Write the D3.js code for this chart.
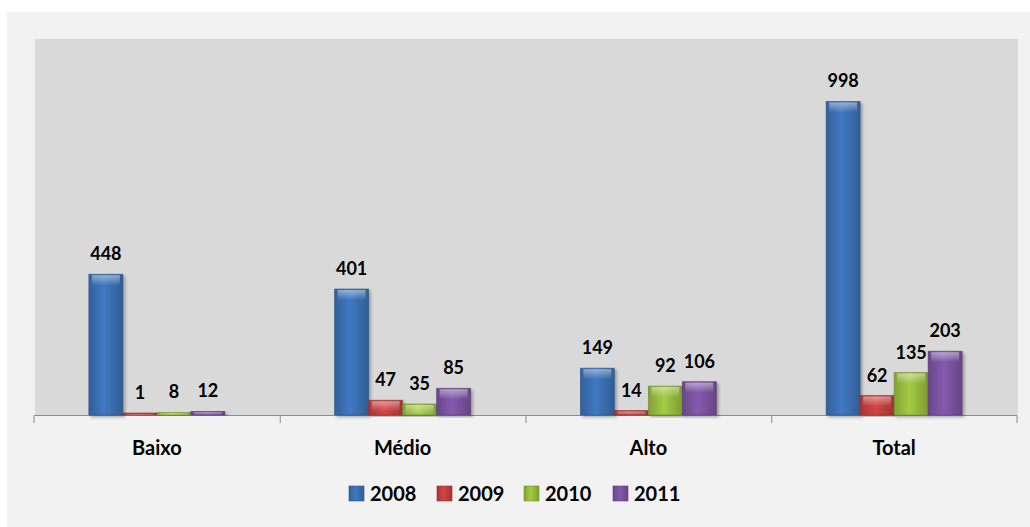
<!DOCTYPE html>
<html><head><meta charset="utf-8">
<script src="https://cdn.jsdelivr.net/npm/d3@7"></script>
<style>html,body{margin:0;padding:0;background:#fff;}svg{display:block;}</style>
</head><body>
<svg id="c" width="1030" height="527"></svg>
<script>
const categories = ["Baixo", "Médio", "Alto", "Total"];
const seriesNames = ["2008", "2009", "2010", "2011"];
const s2008 = [448, 401, 149, 998];
const s2009 = [1, 47, 14, 62];
const s2010 = [8, 35, 92, 135];
const s2011 = [12, 85, 106, 203];
const colors = ["#3d73b9", "#c8413f", "#9bc13f", "#7e55a5"];
const yDomain = [0, 1200];

const series = [s2008, s2009, s2010, s2011];
const svg = d3.select("#c");
const font = "Lato, 'Open Sans', sans-serif";

svg.append("rect").attr("x", 7).attr("y", 12).attr("width", 1023).attr("height", 515).attr("fill", "#f2f2f2");

const plot = {l: 35, r: 1018, t: 39, b: 415};
svg.append("rect").attr("x", plot.l).attr("y", plot.t).attr("width", plot.r - plot.l).attr("height", plot.b - plot.t).attr("fill", "#d9d9d9");

const x0 = d3.scaleBand().domain(categories).range([plot.l - 1, plot.r - 1]).paddingInner(0).paddingOuter(0);
const x1 = d3.scaleBand().domain(seriesNames).range([0, 136]);
const y = d3.scaleLinear().domain(yDomain).range([plot.b, plot.t - 1]);

const defs = svg.append("defs");
colors.forEach((c, i) => {
  const base = d3.color(c);
  const g = defs.append("linearGradient").attr("id", "g" + i).attr("x1", 0).attr("x2", 1).attr("y1", 0).attr("y2", 0);
  g.append("stop").attr("offset", "0%").attr("stop-color", base.darker(0.5));
  g.append("stop").attr("offset", "45%").attr("stop-color", base.brighter(0.15));
  g.append("stop").attr("offset", "100%").attr("stop-color", base.darker(0.6));
  const h = defs.append("linearGradient").attr("id", "h" + i).attr("x1", 0).attr("x2", 0).attr("y1", 0).attr("y2", 1);
  h.append("stop").attr("offset", "0%").attr("stop-color", "#fff").attr("stop-opacity", 0.45);
  h.append("stop").attr("offset", "100%").attr("stop-color", "#fff").attr("stop-opacity", 0);
});
const shadow = defs.append("filter").attr("id", "sh").attr("x", "-20%").attr("y", "-5%").attr("width", "150%").attr("height", "115%");
shadow.append("feDropShadow").attr("dx", 2).attr("dy", 2).attr("stdDeviation", 1.5).attr("flood-color", "#000").attr("flood-opacity", 0.3);

// axis
const axis = d3.axisBottom(x0).tickSize(8).tickFormat("");
const axG = svg.append("g").attr("transform", `translate(0,${plot.b})`);
axG.call(axis);
axG.selectAll(".tick").remove();
axG.select(".domain").attr("stroke", "#8c8c8c").attr("d", `M${plot.l - 1},8V0.5H${plot.r - 1}V8`);
const bounds = categories.slice(1).map(c => x0(c));
axG.selectAll("line.sep").data(bounds).enter().append("line").attr("class", "sep")
  .attr("x1", d => d + 0.5).attr("x2", d => d + 0.5).attr("y1", 0).attr("y2", 8).attr("stroke", "#8c8c8c");

svg.append("g").selectAll("text").data(categories).enter().append("text")
  .attr("x", d => x0(d) + x0.bandwidth() / 2).attr("y", 455)
  .attr("text-anchor", "middle").attr("font-family", font).attr("font-weight", "bold").attr("font-size", 20).attr("fill", "#000")
  .text(d => d);

const groups = svg.append("g").selectAll("g").data(categories).enter().append("g")
  .attr("transform", d => `translate(${x0(d) + (x0.bandwidth() - 136) / 2},0)`);

seriesNames.forEach((s, si) => {
  groups.each(function(cat, ci) {
    const v = series[si][ci];
    const g = d3.select(this);
    const bx = x1(s), bw = x1.bandwidth();
    const top = y(v), h = Math.max(plot.b - top, 2);
    g.append("rect").attr("x", bx).attr("y", plot.b - h).attr("width", bw).attr("height", h)
      .attr("fill", `url(#g${si})`).attr("stroke", d3.color(colors[si]).darker(1)).attr("stroke-width", 0.8).attr("stroke-opacity", 0.7)
      .attr("filter", "url(#sh)");
    g.append("rect").attr("x", bx + 3).attr("y", plot.b - h + 1).attr("width", bw - 6).attr("height", Math.min(10, h - 1))
      .attr("fill", `url(#h${si})`);
    g.append("text").attr("x", bx + bw / 2).attr("y", plot.b - h - 14)
      .attr("text-anchor", "middle").attr("font-family", font).attr("font-weight", "bold").attr("font-size", 18).attr("fill", "#000")
      .text(v);
  });
});

// legend
const legX = [349, 437, 524, 613];
const leg = svg.append("g").selectAll("g").data(seriesNames).enter().append("g")
  .attr("transform", (d, i) => `translate(${legX[i]},486)`);
leg.append("rect").attr("width", 15).attr("height", 15).attr("fill", (d, i) => `url(#g${i})`)
  .attr("stroke", (d, i) => d3.color(colors[i]).darker(0.8)).attr("stroke-width", 0.6);
leg.append("text").attr("x", 21).attr("y", 15).attr("font-family", font).attr("font-weight", "bold").attr("font-size", 20).attr("fill", "#000")
  .text(d => d);
</script>
</body></html>
